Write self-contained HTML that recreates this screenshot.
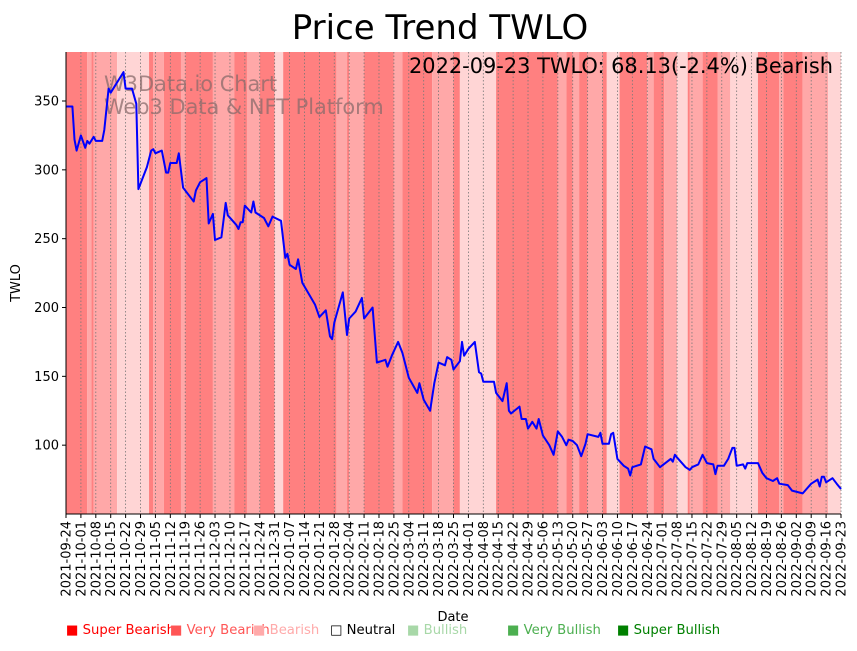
<!DOCTYPE html>
<html><head><meta charset="utf-8">
<style>
body{margin:0;background:#fff;font-family:"Liberation Sans","DejaVu Sans",sans-serif;}
svg text{font-family:"DejaVu Sans","Liberation Sans",sans-serif;}
</style></head>
<body>
<svg id="chart" width="857" height="646" xmlns="http://www.w3.org/2000/svg">
<g id="bands"></g>
<g id="grid"></g>
<text x="440" y="39" font-size="34" text-anchor="middle">Price Trend TWLO</text>
<text x="104" y="91" font-size="20.9" fill="#8a6b6b" fill-opacity="0.75">W3Data.io Chart</text>
<text x="104" y="114" font-size="20.9" fill="#8a6b6b" fill-opacity="0.75">Web3 Data &amp; NFT Platform</text>
<text x="833" y="73" font-size="20.9" text-anchor="end">2022-09-23 TWLO: 68.13(-2.4%) Bearish</text>
<path id="line" fill="none" stroke="#0000ff" stroke-width="2" stroke-linejoin="round"/>
<g id="axes"></g>
<text x="20" y="283" font-size="13" text-anchor="middle" transform="rotate(-90 20 283)">TWLO</text>
<text x="453" y="621" font-size="13" text-anchor="middle">Date</text>
<g font-size="13.2">
<text x="66" y="634" fill="#ff0000">■ Super Bearish</text>
<text x="170" y="634" fill="#ff5555">■ Very Bearish</text>
<text x="253" y="634" fill="#ffaaaa">■ Bearish</text>
<text x="330" y="634" fill="#000">□ Neutral</text>
<text x="407" y="634" fill="#a8d8a8">■ Bullish</text>
<text x="507" y="634" fill="#4caf50">■ Very Bullish</text>
<text x="617" y="634" fill="#008000">■ Super Bullish</text>
</g>
</svg>
<script>
const priceDays=[0,3,4,5,7,9,10,11,13,14,17,18,20,21,27,28,31,33,34,35,38,40,41,42,45,47,48,49,52,53,55,60,61,63,66,67,69,70,73,75,76,80,81,82,83,84,87,88,89,93,95,97,101,103,104,105,108,109,111,117,119,122,124,125,126,130,132,133,136,139,140,144,146,150,151,153,156,158,161,165,166,168,171,173,175,178,179,181,182,185,186,187,189,192,194,195,196,201,202,205,207,208,209,213,214,216,217,219,221,222,224,227,229,231,233,235,236,238,240,242,244,245,250,251,252,255,256,257,259,262,264,265,266,270,272,275,276,279,284,285,286,287,291,293,294,297,299,301,304,305,306,309,311,313,314,315,318,319,320,325,327,329,332,334,335,339,341,346,350,353,354,355,356,357,360,362,364];
const priceValues=[346,346,322,314,325,316,321,319,324,321,321,329,359,356,371,359,359,348,286,290,302,314,315,312,314,298,298,305,305,312,287,277,285,291,294,261,268,249,251,276,267,260,257,262,262,274,269,277,269,265,259,266,263,236,239,231,228,235,218,202,193,198,179,177,189,211,180,192,197,207,192,200,160,162,157,165,175,167,149,138,145,133,125,145,160,158,164,162,155,161,175,165,170,175,153,152,146,146,138,132,145,125,123,128,119,119,112,117,112,119,107,100,93,110,106,100,104,103,100,92,101,108,106,109,101,101,108,109,90,85,83,78,84,86,99,97,90,84,90,88,93,91,84,82,84,86,93,87,86,79,85,85,90,98,98,85,86,83,87,87,80,76,74,76,72,71,67,65,72,75,70,77,77,73,76,72,68.13];
const bandStarts=[0,10,12,13,24,39,41,46,54,56,69,79,85,91,98,102,127,132,133,140,154,158,172,182,185,202,231,235,238,241,245,252,254,260,273,276,281,287,292,293,299,306,312,325,335,337,346,358];
const bandLevels=[0,1,0,1,2,0,1,0,1,0,1,0,1,0,2,0,1,0,1,0,1,0,1,0,2,0,1,0,1,0,1,0,2,0,1,0,1,2,0,1,0,1,2,0,1,0,1,2];
const yTicks=[100,150,200,250,300,350];
const startDate="2021-09-24";
const totalDays=364;
const yMin=50,yMax=385.6;
const L=66,R=841,T=52,B=514;
const NS="http://www.w3.org/2000/svg";
const xs=d=>L+(d/totalDays)*(R-L);
const ys=v=>B-(v-yMin)/(yMax-yMin)*(B-T);
const bandColors=["#ff8080","#ffa8a8","#ffd5d5"];
const bandG=document.getElementById('bands');
for(let i=0;i<bandStarts.length;i++){
  const s=bandStarts[i], e=i+1<bandStarts.length?bandStarts[i+1]:totalDays+1;
  const r=document.createElementNS(NS,'rect');
  r.setAttribute('x',xs(s));r.setAttribute('y',T);
  r.setAttribute('width',Math.min(xs(e),R)-xs(s));r.setAttribute('height',B-T);
  r.setAttribute('fill',bandColors[bandLevels[i]]);
  
  
  bandG.appendChild(r);
}
const tickLabels=[];
const sd=new Date(startDate+"T00:00:00Z");
for(let d=0;d<=totalDays;d+=7){const dt=new Date(sd.getTime()+d*86400000);tickLabels.push(dt.toISOString().slice(0,10));}
const gridG=document.getElementById('grid'), axG=document.getElementById('axes');
tickLabels.forEach((lab,i)=>{
  const x=xs(i*7);
  const g=document.createElementNS(NS,'line');
  g.setAttribute('x1',x);g.setAttribute('x2',x);g.setAttribute('y1',T);g.setAttribute('y2',B);
  g.setAttribute('stroke','#777');g.setAttribute('stroke-width','0.8');g.setAttribute('stroke-dasharray','1.5,2');
  
  
  gridG.appendChild(g);
  const t=document.createElementNS(NS,'line');
  t.setAttribute('x1',x);t.setAttribute('x2',x);t.setAttribute('y1',B);t.setAttribute('y2',B+4);t.setAttribute('stroke','#000');
  
  
  axG.appendChild(t);
  const tx=document.createElementNS(NS,'text');
  tx.setAttribute('x',0);tx.setAttribute('y',0);tx.setAttribute('font-size','13');tx.setAttribute('text-anchor','end');
  tx.setAttribute('transform',`translate(${x+4.5},${B+7}) rotate(-90)`);
  tx.textContent=lab;
  
  
  axG.appendChild(tx);
});
yTicks.forEach(v=>{
  const y=ys(v);
  const t=document.createElementNS(NS,'line');
  t.setAttribute('x1',L-4);t.setAttribute('x2',L);t.setAttribute('y1',y);t.setAttribute('y2',y);t.setAttribute('stroke','#000');
  
  
  axG.appendChild(t);
  const tx=document.createElementNS(NS,'text');
  tx.setAttribute('x',L-7);tx.setAttribute('y',y+4.5);tx.setAttribute('font-size','13');tx.setAttribute('text-anchor','end');
  tx.textContent=v;
  
  
  axG.appendChild(tx);
});
const sp=document.createElementNS(NS,'path');
sp.setAttribute('d',`M${L},${T}V${B}H${R}`);sp.setAttribute('stroke','#000');sp.setAttribute('fill','none');sp.setAttribute('stroke-width','1');


axG.appendChild(sp);
document.getElementById('line').setAttribute('d',priceDays.map((d,i)=>(i?'L':'M')+xs(d).toFixed(1)+','+ys(priceValues[i]).toFixed(1)).join(''));
</script>
</body></html>
